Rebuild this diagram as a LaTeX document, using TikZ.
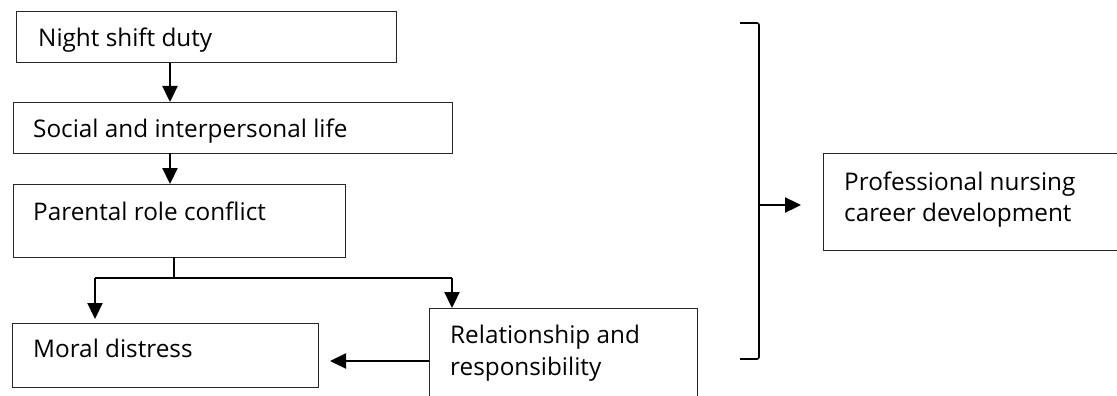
\documentclass[tikz,border=0pt]{standalone}
\usepackage{fontspec}
\setmainfont{Open Sans}
\usetikzlibrary{arrows.meta}
\tikzset{
  x=1pt, y=-1pt,
  box/.style={draw=black!85, line width=1pt, rectangle, anchor=north west, inner sep=0pt, outer sep=0pt},
  lbl/.style={anchor=base west, inner sep=0pt, font=\fontsize{24.3}{31}\selectfont},
  conn/.style={line width=2.3pt, draw=black},
  arr/.style={conn, -{Triangle[length=16pt,width=15pt]}},
  stub/.style={line width=1.4pt, draw=black},
}
\begin{document}
\begin{tikzpicture}
\useasboundingbox (0,0) rectangle (1117,396);
\clip (0,0) rectangle (1117,396);
% boxes
\node[box, minimum width=380, minimum height=51] (n1) at (16,12) {};
\node[box, minimum width=439, minimum height=51] (n2) at (13,102) {};
\node[box, minimum width=332, minimum height=73] (n3) at (13,184) {};
\node[box, minimum width=306, minimum height=64] (n4) at (12,323) {};
\node[box, minimum width=268, minimum height=100] (n5) at (429,308) {};
\node[box, minimum width=320, minimum height=97] (n6) at (823,153) {};
% texts
\node[lbl] (t1) at (38,47) {Night shift duty};
\node[lbl] (t2) at (33,137) {Social and interpersonal life};
\node[lbl] (t3) at (33,220.5) {Parental role conflict};
\node[lbl] (t4) at (33,357.5) {Moral distress};
\node[lbl] (t5a) at (450,343) {Relationship and};
\node[lbl] (t5b) at (450,375) {responsibility};
\node[lbl] (t6a) at (844,190) {Professional nursing};
\node[lbl] (t6b) at (844,221) {career development};
% helper coordinates
\coordinate (a1) at (170,0);
\coordinate (j) at (174,278);
\coordinate (jl) at (95,278);
\coordinate (jr) at (452,278);
\coordinate (jlend) at (95,319);
\coordinate (rr) at (429,361);
\coordinate (mdtip) at (330,361);
\coordinate (bt0) at (740,23);
\coordinate (bt1) at (759,23);
\coordinate (bb1) at (759,359);
\coordinate (bb0) at (740,359);
\coordinate (bm) at (759,205);
\coordinate (ptip) at (801,205);
% connectors
\draw[arr] (n1.south -| a1) -- (n2.north -| a1);
\draw[arr] (n2.south -| a1) -- (n3.north -| a1);
\draw[stub] (n3.south -| j) -- (j);
\draw[conn] (jl) -- (jr);
\draw[arr] (jl) -- (jlend);
\draw[arr] (jr) -- (n5.north -| jr);
\draw[arr] (rr) -- (mdtip);
\draw[line width=1.6pt, rounded corners=2pt] (bt0) -- (bt1) -- (bb1) -- (bb0);
\draw[arr] (bm) -- (ptip);
\end{tikzpicture}
\end{document}
